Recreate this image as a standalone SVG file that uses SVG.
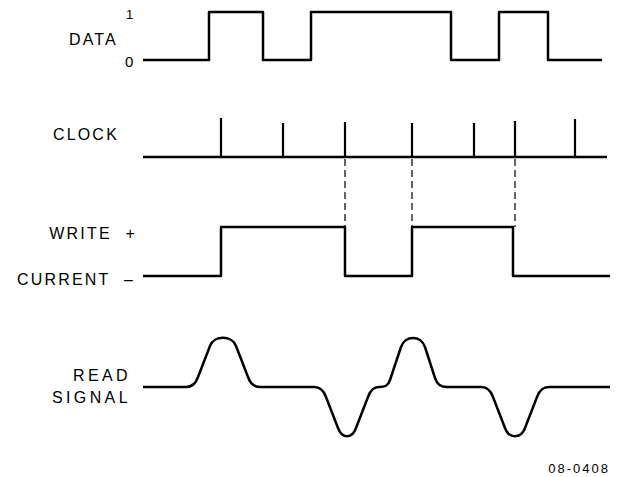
<svg xmlns="http://www.w3.org/2000/svg" width="619" height="477" viewBox="0 0 619 477">
<style>
text{font-family:"Liberation Sans",Arial,sans-serif;fill:#000;}
.lbl{font-size:16px;letter-spacing:2.2px;text-anchor:end;}
.wide{word-spacing:7px;}
.rd{letter-spacing:3.4px;}
.sig{fill:none;stroke:#000;stroke-width:2.5;stroke-linejoin:round;}
.tick{stroke:#000;stroke-width:2.2;}
.dash{stroke:#000;stroke-width:1.2;stroke-dasharray:7 4;fill:none;}
</style>
<rect width="619" height="477" fill="#fff"/>
<g id="data">
<text class="lbl" x="118" y="45">DATA</text>
<text x="126" y="19" style="font-size:13px">1</text>
<text x="125" y="67" style="font-size:15px">0</text>
<path class="sig" d="M143,60 H209 V12 H263 V60 H311 V12 H451 V60 H499 V12 H548 V60 H602"/>
</g>
<g id="clock">
<text class="lbl" x="119" y="140">CLOCK</text>
<path class="sig" d="M143,157 H607"/>
<path class="tick" d="M221,157 V118 M283,157 V123 M345,157 V122 M412,157 V123 M474,157 V123 M515,157 V121 M575,157 V119"/>
</g>
<g id="connectors">
<path class="dash" d="M345,159 V227 M412,159 V227 M515,159 V227"/>
</g>
<g id="write">
<text class="lbl wide" x="137" y="239">WRITE +</text>
<text class="lbl wide" x="135" y="285">CURRENT –</text>
<path class="sig" d="M143,276 H221 V227 H345 V276 H412 V227 H513 V276 H610"/>
</g>
<g id="read">
<text class="lbl rd" x="131" y="381">READ</text>
<text class="lbl rd" x="131" y="403">SIGNAL</text>
<path class="sig" d="M143,387 H186 C193,387 196,383 198,377 L210,346 C214,335 232,335 236,346 L248,377 C250,383 253,387 260,387 H314 C321,387 324,391 326,397 L338,428 C342,439 352,439 356,428 L368,397 C370,391 373,387 379,387 C385,387 388,386 390,380 L401,347 C405,335 421,335 425,347 L435,378 C437,384 440,387 447,387 H481 C488,387 491,391 493,397 L505,428 C509,439 521,439 525,428 L537,397 C539,391 542,387 549,387 H610"/>
</g>
<text x="610" y="473" style="font-size:13px;letter-spacing:2px;text-anchor:end">08-0408</text>
</svg>
